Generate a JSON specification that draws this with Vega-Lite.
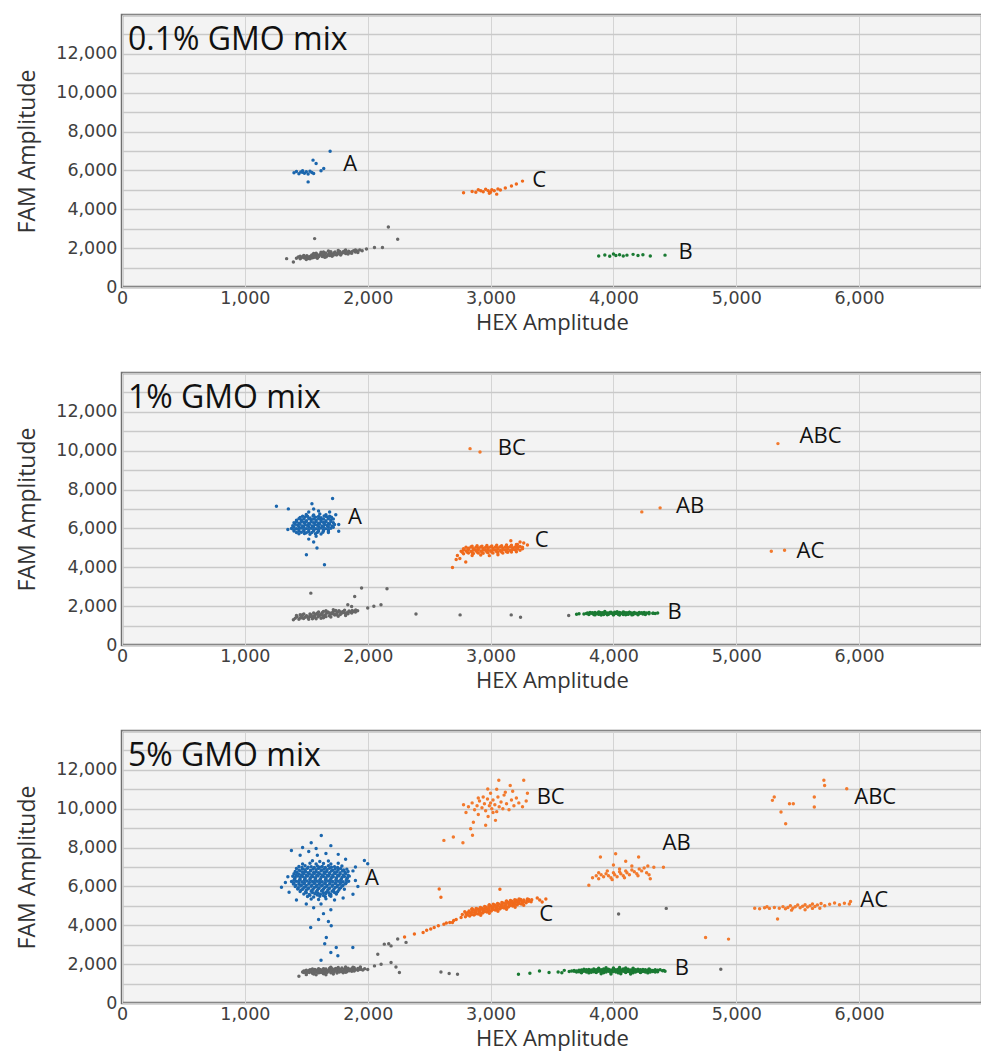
{
"$schema": "https://vega.github.io/schema/vega-lite/v6.json",
"padding": {"left": 15, "top": 13, "right": 0, "bottom": 0},
"background": "white",
"spacing": 36,
"config": {
 "font": "Open Sans",
 "view": {"fill": "#f3f3f3", "stroke": "#6f6f6f", "strokeWidth": 2.5},
 "axis": {"labelFont": "DejaVu Sans", "labelFontSize": 17.5, "labelColor": "#404040", "titleFont": "Open Sans", "titleFontWeight": "normal", "titleColor": "#333333", "ticks": false, "domain": false, "labelFlush": false},
 "title": {"font": "Open Sans", "fontSize": 32, "fontWeight": "normal", "color": "#111111", "anchor": "start", "frame": "group", "baseline": "top", "offset": -42, "dx": 6}
},
"datasets": {
"lab": [
{"p":1,"t":"A","x":1800,"y":6350},{"p":1,"t":"C","x":3340,"y":5500},{"p":1,"t":"B","x":4530,"y":1800},
{"p":2,"t":"BC","x":3058,"y":10150},{"p":2,"t":"ABC","x":5515,"y":10760},{"p":2,"t":"AB","x":4510,"y":7140},{"p":2,"t":"A","x":1840,"y":6580},{"p":2,"t":"C","x":3360,"y":5420},{"p":2,"t":"AC","x":5490,"y":4820},{"p":2,"t":"B","x":4440,"y":1720},
{"p":3,"t":"BC","x":3375,"y":10600},{"p":3,"t":"ABC","x":5960,"y":10600},{"p":3,"t":"AB","x":4400,"y":8210},{"p":3,"t":"A","x":1977,"y":6420},{"p":3,"t":"C","x":3396,"y":4600},{"p":3,"t":"AC","x":6010,"y":5320},{"p":3,"t":"B","x":4500,"y":1820}
],
"d1": [
{"g":"N","x":1420,"y":1480},{"g":"N","x":1435,"y":1540},{"g":"N","x":1450,"y":1455},{"g":"N","x":1460,"y":1510},{"g":"N","x":1472,"y":1575},{"g":"N","x":1485,"y":1490},{"g":"N","x":1495,"y":1545},{"g":"N","x":1505,"y":1610},{"g":"N","x":1515,"y":1470},{"g":"N","x":1522,"y":1530},
{"g":"N","x":1535,"y":1590},{"g":"N","x":1545,"y":1650},{"g":"N","x":1552,"y":1510},{"g":"N","x":1563,"y":1565},{"g":"N","x":1575,"y":1625},{"g":"N","x":1584,"y":1690},{"g":"N","x":1592,"y":1540},{"g":"N","x":1603,"y":1600},{"g":"N","x":1612,"y":1660},{"g":"N","x":1620,"y":1720},
{"g":"N","x":1630,"y":1570},{"g":"N","x":1641,"y":1630},{"g":"N","x":1650,"y":1690},{"g":"N","x":1659,"y":1745},{"g":"N","x":1668,"y":1600},{"g":"N","x":1678,"y":1660},{"g":"N","x":1687,"y":1720},{"g":"N","x":1697,"y":1775},{"g":"N","x":1705,"y":1630},{"g":"N","x":1716,"y":1690},
{"g":"N","x":1725,"y":1750},{"g":"N","x":1734,"y":1800},{"g":"N","x":1743,"y":1660},{"g":"N","x":1753,"y":1720},{"g":"N","x":1762,"y":1780},{"g":"N","x":1772,"y":1830},{"g":"N","x":1781,"y":1690},{"g":"N","x":1791,"y":1750},{"g":"N","x":1800,"y":1810},{"g":"N","x":1812,"y":1860},
{"g":"N","x":1822,"y":1720},{"g":"N","x":1833,"y":1780},{"g":"N","x":1845,"y":1840},{"g":"N","x":1858,"y":1760},{"g":"N","x":1870,"y":1810},{"g":"N","x":1885,"y":1870},{"g":"N","x":1900,"y":1800},{"g":"N","x":1915,"y":1850},{"g":"N","x":1935,"y":1900},{"g":"N","x":1955,"y":1870},
{"g":"N","x":1530,"y":1450},{"g":"N","x":1590,"y":1480},{"g":"N","x":1650,"y":1530},{"g":"N","x":1710,"y":1580},{"g":"N","x":1560,"y":1720},{"g":"N","x":1620,"y":1790},{"g":"N","x":1680,"y":1850},{"g":"N","x":1600,"y":1640},{"g":"N","x":1700,"y":1700},{"g":"N","x":1760,"y":1740},
{"g":"N","x":1450,"y":1590},{"g":"N","x":1480,"y":1620},{"g":"N","x":1510,"y":1560},{"g":"N","x":1540,"y":1500},{"g":"N","x":1570,"y":1530},{"g":"N","x":1600,"y":1560},{"g":"N","x":1630,"y":1680},{"g":"N","x":1660,"y":1550},{"g":"N","x":1690,"y":1620},{"g":"N","x":1720,"y":1640},
{"g":"N","x":1750,"y":1660},{"g":"N","x":1780,"y":1650},{"g":"N","x":1810,"y":1760},{"g":"N","x":1840,"y":1700},{"g":"N","x":1870,"y":1740},{"g":"N","x":1900,"y":1900},{"g":"N","x":1920,"y":1780},{"g":"N","x":1500,"y":1420},{"g":"N","x":1580,"y":1740},{"g":"N","x":1640,"y":1800},
{"g":"N","x":1700,"y":1820},{"g":"N","x":1760,"y":1880},{"g":"N","x":1820,"y":1900},
{"g":"N","x":1340,"y":1460},{"g":"N","x":1395,"y":1290},{"g":"N","x":1568,"y":2490},{"g":"N","x":2055,"y":2030},{"g":"N","x":2120,"y":2030},{"g":"N","x":2168,"y":3090},{"g":"N","x":2244,"y":2460},{"g":"N","x":1990,"y":1960},
{"g":"A","x":1400,"y":5880},{"g":"A","x":1420,"y":5950},{"g":"A","x":1440,"y":5830},{"g":"A","x":1455,"y":5920},{"g":"A","x":1470,"y":5990},{"g":"A","x":1485,"y":5860},{"g":"A","x":1500,"y":5930},{"g":"A","x":1515,"y":5820},{"g":"A","x":1530,"y":5960},{"g":"A","x":1545,"y":5890},
{"g":"A","x":1555,"y":6530},{"g":"A","x":1580,"y":6360},{"g":"A","x":1620,"y":5980},{"g":"A","x":1642,"y":6100},{"g":"A","x":1515,"y":5410},{"g":"A","x":1694,"y":6990},{"g":"A","x":1470,"y":5900},{"g":"A","x":1560,"y":5840},
{"g":"C","x":2780,"y":4850},{"g":"C","x":2850,"y":4920},{"g":"C","x":2880,"y":4880},{"g":"C","x":2900,"y":5000},{"g":"C","x":2920,"y":4950},{"g":"C","x":2940,"y":4900},{"g":"C","x":2960,"y":5030},{"g":"C","x":2980,"y":4960},{"g":"C","x":3000,"y":4880},{"g":"C","x":3010,"y":5010},
{"g":"C","x":3030,"y":4950},{"g":"C","x":3050,"y":4780},{"g":"C","x":3060,"y":5050},{"g":"C","x":3080,"y":4990},{"g":"C","x":3120,"y":5100},{"g":"C","x":3170,"y":5200},{"g":"C","x":3210,"y":5300},{"g":"C","x":3260,"y":5450},{"g":"C","x":2990,"y":4820},
{"g":"B","x":3880,"y":1600},{"g":"B","x":3930,"y":1650},{"g":"B","x":3970,"y":1580},{"g":"B","x":4000,"y":1700},{"g":"B","x":4020,"y":1620},{"g":"B","x":4050,"y":1660},{"g":"B","x":4080,"y":1600},{"g":"B","x":4110,"y":1640},{"g":"B","x":4160,"y":1680},{"g":"B","x":4200,"y":1620},
{"g":"B","x":4240,"y":1660},{"g":"B","x":4300,"y":1600},{"g":"B","x":4420,"y":1640}
],
"d2": [
{"g":"N","x":1395,"y":1300},{"g":"N","x":1410,"y":1380},{"g":"N","x":1425,"y":1450},{"g":"N","x":1440,"y":1330},{"g":"N","x":1452,"y":1400},{"g":"N","x":1465,"y":1480},{"g":"N","x":1478,"y":1360},{"g":"N","x":1490,"y":1430},{"g":"N","x":1502,"y":1510},{"g":"N","x":1515,"y":1390},
{"g":"N","x":1527,"y":1460},{"g":"N","x":1540,"y":1540},{"g":"N","x":1552,"y":1420},{"g":"N","x":1563,"y":1490},{"g":"N","x":1575,"y":1570},{"g":"N","x":1588,"y":1640},{"g":"N","x":1597,"y":1450},{"g":"N","x":1608,"y":1520},{"g":"N","x":1620,"y":1600},{"g":"N","x":1632,"y":1670},
{"g":"N","x":1642,"y":1480},{"g":"N","x":1653,"y":1550},{"g":"N","x":1665,"y":1630},{"g":"N","x":1676,"y":1700},{"g":"N","x":1687,"y":1510},{"g":"N","x":1698,"y":1580},{"g":"N","x":1710,"y":1660},{"g":"N","x":1721,"y":1730},{"g":"N","x":1732,"y":1540},{"g":"N","x":1743,"y":1610},
{"g":"N","x":1755,"y":1690},{"g":"N","x":1766,"y":1760},{"g":"N","x":1777,"y":1570},{"g":"N","x":1788,"y":1640},{"g":"N","x":1800,"y":1720},{"g":"N","x":1812,"y":1790},{"g":"N","x":1823,"y":1600},{"g":"N","x":1835,"y":1670},{"g":"N","x":1848,"y":1750},{"g":"N","x":1860,"y":1700},
{"g":"N","x":1874,"y":1780},{"g":"N","x":1888,"y":1720},{"g":"N","x":1902,"y":1800},{"g":"N","x":1918,"y":1760},{"g":"N","x":1470,"y":1560},{"g":"N","x":1530,"y":1600},{"g":"N","x":1580,"y":1350},{"g":"N","x":1640,"y":1400},{"g":"N","x":1700,"y":1440},{"g":"N","x":1760,"y":1480},
{"g":"N","x":1820,"y":1520},{"g":"N","x":1600,"y":1700},{"g":"N","x":1660,"y":1760},{"g":"N","x":1720,"y":1810},{"g":"N","x":1550,"y":1350},
{"g":"N","x":1420,"y":1520},{"g":"N","x":1450,"y":1560},{"g":"N","x":1480,"y":1600},{"g":"N","x":1510,"y":1460},{"g":"N","x":1540,"y":1480},{"g":"N","x":1570,"y":1430},{"g":"N","x":1600,"y":1560},{"g":"N","x":1630,"y":1530},{"g":"N","x":1660,"y":1460},{"g":"N","x":1690,"y":1650},
{"g":"N","x":1720,"y":1600},{"g":"N","x":1750,"y":1560},{"g":"N","x":1780,"y":1700},{"g":"N","x":1810,"y":1660},{"g":"N","x":1840,"y":1610},{"g":"N","x":1870,"y":1650},{"g":"N","x":1900,"y":1700},{"g":"N","x":1460,"y":1400},{"g":"N","x":1520,"y":1320},{"g":"N","x":1620,"y":1380},
{"g":"N","x":1560,"y":1650},{"g":"N","x":1640,"y":1720},{"g":"N","x":1740,"y":1780},
{"g":"N","x":1537,"y":2670},{"g":"N","x":1894,"y":2500},{"g":"N","x":1950,"y":2930},{"g":"N","x":1869,"y":1980},{"g":"N","x":1838,"y":2070},{"g":"N","x":2000,"y":1900},{"g":"N","x":2050,"y":2000},{"g":"N","x":2108,"y":2070},{"g":"N","x":2157,"y":2890},{"g":"N","x":2393,"y":1600},
{"g":"N","x":2752,"y":1550},{"g":"N","x":3168,"y":1550},{"g":"N","x":3244,"y":1430},{"g":"N","x":3636,"y":1515},
{"g":"A","x":1500,"y":6720},{"g":"A","x":1560,"y":6690},{"g":"A","x":1610,"y":6740},{"g":"A","x":1660,"y":6700},
{"g":"A","x":1450,"y":6560},{"g":"A","x":1490,"y":6590},{"g":"A","x":1530,"y":6540},{"g":"A","x":1575,"y":6580},{"g":"A","x":1620,"y":6550},{"g":"A","x":1665,"y":6600},{"g":"A","x":1705,"y":6570},
{"g":"A","x":1420,"y":6420},{"g":"A","x":1460,"y":6440},{"g":"A","x":1500,"y":6400},{"g":"A","x":1540,"y":6450},{"g":"A","x":1580,"y":6410},{"g":"A","x":1620,"y":6440},{"g":"A","x":1660,"y":6400},{"g":"A","x":1700,"y":6430},
{"g":"A","x":1400,"y":6290},{"g":"A","x":1440,"y":6270},{"g":"A","x":1480,"y":6300},{"g":"A","x":1520,"y":6260},{"g":"A","x":1560,"y":6290},{"g":"A","x":1600,"y":6270},{"g":"A","x":1640,"y":6300},{"g":"A","x":1680,"y":6260},{"g":"A","x":1720,"y":6290},
{"g":"A","x":1390,"y":6140},{"g":"A","x":1430,"y":6160},{"g":"A","x":1470,"y":6120},{"g":"A","x":1510,"y":6150},{"g":"A","x":1550,"y":6130},{"g":"A","x":1590,"y":6160},{"g":"A","x":1630,"y":6120},{"g":"A","x":1670,"y":6150},{"g":"A","x":1710,"y":6130},
{"g":"A","x":1380,"y":6000},{"g":"A","x":1420,"y":5980},{"g":"A","x":1460,"y":6020},{"g":"A","x":1500,"y":5990},{"g":"A","x":1540,"y":6010},{"g":"A","x":1580,"y":5980},{"g":"A","x":1620,"y":6020},{"g":"A","x":1660,"y":5990},{"g":"A","x":1700,"y":6010},
{"g":"A","x":1400,"y":5870},{"g":"A","x":1440,"y":5850},{"g":"A","x":1480,"y":5880},{"g":"A","x":1520,"y":5840},{"g":"A","x":1560,"y":5870},{"g":"A","x":1600,"y":5850},{"g":"A","x":1640,"y":5880},{"g":"A","x":1680,"y":5860},
{"g":"A","x":1440,"y":5720},{"g":"A","x":1485,"y":5740},{"g":"A","x":1530,"y":5700},{"g":"A","x":1575,"y":5730},{"g":"A","x":1620,"y":5710},
{"g":"A","x":1470,"y":6630},{"g":"A","x":1510,"y":6625},{"g":"A","x":1555,"y":6640},{"g":"A","x":1600,"y":6620},{"g":"A","x":1645,"y":6635},{"g":"A","x":1690,"y":6625},
{"g":"A","x":1440,"y":6495},{"g":"A","x":1480,"y":6485},{"g":"A","x":1520,"y":6500},{"g":"A","x":1560,"y":6480},{"g":"A","x":1600,"y":6495},{"g":"A","x":1640,"y":6485},{"g":"A","x":1680,"y":6500},{"g":"A","x":1720,"y":6490},
{"g":"A","x":1420,"y":6350},{"g":"A","x":1460,"y":6360},{"g":"A","x":1500,"y":6345},{"g":"A","x":1540,"y":6355},{"g":"A","x":1580,"y":6340},{"g":"A","x":1620,"y":6360},{"g":"A","x":1660,"y":6345},{"g":"A","x":1700,"y":6355},
{"g":"A","x":1410,"y":6210},{"g":"A","x":1450,"y":6220},{"g":"A","x":1490,"y":6200},{"g":"A","x":1530,"y":6215},{"g":"A","x":1570,"y":6205},{"g":"A","x":1610,"y":6220},{"g":"A","x":1650,"y":6200},{"g":"A","x":1690,"y":6215},{"g":"A","x":1730,"y":6205},
{"g":"A","x":1400,"y":6070},{"g":"A","x":1440,"y":6080},{"g":"A","x":1480,"y":6060},{"g":"A","x":1520,"y":6075},{"g":"A","x":1560,"y":6065},{"g":"A","x":1600,"y":6080},{"g":"A","x":1640,"y":6060},{"g":"A","x":1680,"y":6075},{"g":"A","x":1720,"y":6065},
{"g":"A","x":1400,"y":5930},{"g":"A","x":1440,"y":5940},{"g":"A","x":1480,"y":5920},{"g":"A","x":1520,"y":5935},{"g":"A","x":1560,"y":5925},{"g":"A","x":1600,"y":5940},{"g":"A","x":1640,"y":5920},{"g":"A","x":1680,"y":5935},
{"g":"A","x":1420,"y":5790},{"g":"A","x":1460,"y":5800},{"g":"A","x":1500,"y":5780},{"g":"A","x":1545,"y":5795},{"g":"A","x":1590,"y":5785},{"g":"A","x":1635,"y":5800},{"g":"A","x":1680,"y":5790},
{"g":"A","x":1257,"y":7145},{"g":"A","x":1354,"y":7006},{"g":"A","x":1714,"y":7540},{"g":"A","x":1546,"y":7265},{"g":"A","x":1587,"y":4993},{"g":"A","x":1501,"y":4650},{"g":"A","x":1648,"y":4130},{"g":"A","x":1764,"y":5854},{"g":"A","x":1764,"y":6198},{"g":"A","x":1560,"y":7000},
{"g":"A","x":1600,"y":6900},{"g":"A","x":1520,"y":5450},{"g":"A","x":1580,"y":5600},{"g":"A","x":1350,"y":5950},{"g":"A","x":1740,"y":6700},{"g":"A","x":1520,"y":6850},{"g":"A","x":1690,"y":6850},{"g":"A","x":1560,"y":5300},
{"g":"C","x":2850,"y":5080},{"g":"C","x":2890,"y":5110},{"g":"C","x":2930,"y":5090},{"g":"C","x":2970,"y":5120},{"g":"C","x":3010,"y":5100},{"g":"C","x":3050,"y":5130},{"g":"C","x":3090,"y":5110},{"g":"C","x":3130,"y":5150},{"g":"C","x":3170,"y":5130},{"g":"C","x":3210,"y":5170},
{"g":"C","x":2780,"y":4950},{"g":"C","x":2820,"y":4980},{"g":"C","x":2860,"y":4960},{"g":"C","x":2900,"y":4990},{"g":"C","x":2940,"y":4970},{"g":"C","x":2980,"y":5000},{"g":"C","x":3020,"y":4980},{"g":"C","x":3060,"y":5010},{"g":"C","x":3100,"y":4990},{"g":"C","x":3140,"y":5020},{"g":"C","x":3180,"y":5000},{"g":"C","x":3220,"y":5040},{"g":"C","x":3260,"y":5030},
{"g":"C","x":2760,"y":4830},{"g":"C","x":2800,"y":4850},{"g":"C","x":2840,"y":4820},{"g":"C","x":2880,"y":4860},{"g":"C","x":2920,"y":4840},{"g":"C","x":2960,"y":4870},{"g":"C","x":3000,"y":4850},{"g":"C","x":3040,"y":4880},{"g":"C","x":3080,"y":4860},{"g":"C","x":3120,"y":4890},{"g":"C","x":3160,"y":4870},{"g":"C","x":3200,"y":4900},{"g":"C","x":3240,"y":4880},
{"g":"C","x":2780,"y":4700},{"g":"C","x":2820,"y":4730},{"g":"C","x":2860,"y":4710},{"g":"C","x":2900,"y":4740},{"g":"C","x":2940,"y":4720},{"g":"C","x":2980,"y":4750},{"g":"C","x":3020,"y":4730},{"g":"C","x":3060,"y":4760},{"g":"C","x":3100,"y":4740},{"g":"C","x":3140,"y":4770},
{"g":"C","x":2850,"y":4610},{"g":"C","x":2920,"y":4630},{"g":"C","x":2990,"y":4600},{"g":"C","x":3060,"y":4640},
{"g":"C","x":2800,"y":5030},{"g":"C","x":2840,"y":5040},{"g":"C","x":2880,"y":5025},{"g":"C","x":2920,"y":5045},{"g":"C","x":2960,"y":5035},{"g":"C","x":3000,"y":5050},{"g":"C","x":3040,"y":5040},{"g":"C","x":3080,"y":5055},{"g":"C","x":3120,"y":5045},{"g":"C","x":3160,"y":5060},{"g":"C","x":3200,"y":5050},{"g":"C","x":3240,"y":5065},
{"g":"C","x":2780,"y":4900},{"g":"C","x":2820,"y":4910},{"g":"C","x":2860,"y":4895},{"g":"C","x":2900,"y":4915},{"g":"C","x":2940,"y":4905},{"g":"C","x":2980,"y":4920},{"g":"C","x":3020,"y":4910},{"g":"C","x":3060,"y":4925},{"g":"C","x":3100,"y":4915},{"g":"C","x":3140,"y":4930},{"g":"C","x":3180,"y":4920},{"g":"C","x":3220,"y":4940},{"g":"C","x":3260,"y":4950},
{"g":"C","x":2770,"y":4770},{"g":"C","x":2810,"y":4780},{"g":"C","x":2850,"y":4765},{"g":"C","x":2890,"y":4785},{"g":"C","x":2930,"y":4775},{"g":"C","x":2970,"y":4790},{"g":"C","x":3010,"y":4780},{"g":"C","x":3050,"y":4795},{"g":"C","x":3090,"y":4785},{"g":"C","x":3130,"y":4800},{"g":"C","x":3170,"y":4790},{"g":"C","x":3210,"y":4805},
{"g":"C","x":2730,"y":4610},{"g":"C","x":2798,"y":4270},{"g":"C","x":2690,"y":3990},{"g":"C","x":3165,"y":5370},{"g":"C","x":3219,"y":5170},{"g":"C","x":3270,"y":5250},{"g":"C","x":3300,"y":5150},{"g":"C","x":3240,"y":5300},{"g":"C","x":2750,"y":4450},{"g":"C","x":2720,"y":4400},
{"g":"B","x":3880,"y":1700},{"g":"B","x":3930,"y":1720},{"g":"B","x":3980,"y":1690},{"g":"B","x":4030,"y":1710},{"g":"B","x":4080,"y":1700},{"g":"B","x":4130,"y":1690},
{"g":"B","x":3790,"y":1650},{"g":"B","x":3830,"y":1660},{"g":"B","x":3870,"y":1640},{"g":"B","x":3910,"y":1660},{"g":"B","x":3950,"y":1650},{"g":"B","x":3990,"y":1640},{"g":"B","x":4030,"y":1660},{"g":"B","x":4070,"y":1640},{"g":"B","x":4110,"y":1660},{"g":"B","x":4150,"y":1650},{"g":"B","x":4190,"y":1640},{"g":"B","x":4230,"y":1660},{"g":"B","x":4270,"y":1650},
{"g":"B","x":3760,"y":1600},{"g":"B","x":3800,"y":1590},{"g":"B","x":3840,"y":1610},{"g":"B","x":3880,"y":1600},{"g":"B","x":3920,"y":1590},{"g":"B","x":3960,"y":1610},{"g":"B","x":4000,"y":1600},{"g":"B","x":4040,"y":1590},{"g":"B","x":4080,"y":1610},{"g":"B","x":4120,"y":1600},{"g":"B","x":4160,"y":1590},{"g":"B","x":4200,"y":1610},{"g":"B","x":4240,"y":1600},{"g":"B","x":4290,"y":1610},{"g":"B","x":4340,"y":1620},
{"g":"B","x":3850,"y":1550},{"g":"B","x":3900,"y":1540},{"g":"B","x":3950,"y":1560},{"g":"B","x":4000,"y":1550},{"g":"B","x":4050,"y":1540},{"g":"B","x":4100,"y":1560},{"g":"B","x":4150,"y":1550},{"g":"B","x":4200,"y":1560},
{"g":"B","x":3810,"y":1675},{"g":"B","x":3850,"y":1680},{"g":"B","x":3890,"y":1670},{"g":"B","x":3930,"y":1682},{"g":"B","x":3970,"y":1672},{"g":"B","x":4010,"y":1685},{"g":"B","x":4050,"y":1675},{"g":"B","x":4090,"y":1680},{"g":"B","x":4130,"y":1670},{"g":"B","x":4170,"y":1678},{"g":"B","x":4210,"y":1672},{"g":"B","x":4250,"y":1680},{"g":"B","x":4290,"y":1675},
{"g":"B","x":3780,"y":1625},{"g":"B","x":3820,"y":1630},{"g":"B","x":3860,"y":1620},{"g":"B","x":3900,"y":1632},{"g":"B","x":3940,"y":1622},{"g":"B","x":3980,"y":1628},{"g":"B","x":4020,"y":1620},{"g":"B","x":4060,"y":1632},{"g":"B","x":4100,"y":1624},{"g":"B","x":4140,"y":1630},{"g":"B","x":4180,"y":1622},{"g":"B","x":4220,"y":1628},{"g":"B","x":4260,"y":1620},{"g":"B","x":4320,"y":1630},
{"g":"B","x":3800,"y":1575},{"g":"B","x":3840,"y":1570},{"g":"B","x":3880,"y":1580},{"g":"B","x":3920,"y":1572},{"g":"B","x":3960,"y":1578},{"g":"B","x":4000,"y":1570},{"g":"B","x":4040,"y":1580},{"g":"B","x":4080,"y":1574},{"g":"B","x":4120,"y":1578},{"g":"B","x":4160,"y":1570},{"g":"B","x":4200,"y":1580},{"g":"B","x":4260,"y":1575},
{"g":"B","x":3720,"y":1610},{"g":"B","x":4326,"y":1640},{"g":"B","x":3700,"y":1580},{"g":"B","x":4360,"y":1650},
{"g":"M","x":2833,"y":10107},{"g":"M","x":2914,"y":9935},{"g":"M","x":5339,"y":10365},{"g":"M","x":4231,"y":6852},{"g":"M","x":4380,"y":7058},{"g":"M","x":5285,"y":4820},{"g":"M","x":5393,"y":4872}
],
"d3": [
{"g":"N","x":1640,"y":1770},{"g":"N","x":1690,"y":1790},{"g":"N","x":1740,"y":1780},{"g":"N","x":1790,"y":1800},{"g":"N","x":1840,"y":1790},{"g":"N","x":1890,"y":1810},{"g":"N","x":1940,"y":1800},
{"g":"N","x":1530,"y":1710},{"g":"N","x":1570,"y":1730},{"g":"N","x":1610,"y":1720},{"g":"N","x":1650,"y":1730},{"g":"N","x":1690,"y":1715},{"g":"N","x":1730,"y":1735},{"g":"N","x":1770,"y":1720},{"g":"N","x":1810,"y":1740},{"g":"N","x":1850,"y":1725},{"g":"N","x":1890,"y":1745},{"g":"N","x":1930,"y":1735},{"g":"N","x":1975,"y":1760},
{"g":"N","x":1480,"y":1650},{"g":"N","x":1520,"y":1665},{"g":"N","x":1560,"y":1650},{"g":"N","x":1600,"y":1670},{"g":"N","x":1640,"y":1655},{"g":"N","x":1680,"y":1675},{"g":"N","x":1720,"y":1660},{"g":"N","x":1760,"y":1680},{"g":"N","x":1800,"y":1665},{"g":"N","x":1840,"y":1685},{"g":"N","x":1880,"y":1670},{"g":"N","x":1920,"y":1690},{"g":"N","x":1960,"y":1700},{"g":"N","x":2000,"y":1720},
{"g":"N","x":1470,"y":1600},{"g":"N","x":1510,"y":1590},{"g":"N","x":1550,"y":1610},{"g":"N","x":1590,"y":1595},{"g":"N","x":1630,"y":1615},{"g":"N","x":1670,"y":1600},{"g":"N","x":1710,"y":1620},{"g":"N","x":1750,"y":1605},{"g":"N","x":1790,"y":1625},{"g":"N","x":1830,"y":1610},{"g":"N","x":1870,"y":1630},
{"g":"N","x":1500,"y":1540},{"g":"N","x":1550,"y":1530},{"g":"N","x":1600,"y":1550},{"g":"N","x":1650,"y":1540},{"g":"N","x":1700,"y":1555},{"g":"N","x":1750,"y":1545},{"g":"N","x":1800,"y":1560},
{"g":"N","x":1560,"y":1490},{"g":"N","x":1640,"y":1500},{"g":"N","x":1720,"y":1495},
{"g":"N","x":1700,"y":1840},{"g":"N","x":1760,"y":1830},{"g":"N","x":1820,"y":1850},{"g":"N","x":1880,"y":1840},{"g":"N","x":1940,"y":1850},
{"g":"N","x":1550,"y":1750},{"g":"N","x":1600,"y":1760},{"g":"N","x":1660,"y":1750},{"g":"N","x":1710,"y":1765},{"g":"N","x":1760,"y":1750},{"g":"N","x":1820,"y":1770},{"g":"N","x":1870,"y":1760},{"g":"N","x":1920,"y":1775},
{"g":"N","x":1500,"y":1690},{"g":"N","x":1540,"y":1700},{"g":"N","x":1580,"y":1690},{"g":"N","x":1620,"y":1705},{"g":"N","x":1660,"y":1695},{"g":"N","x":1700,"y":1710},{"g":"N","x":1740,"y":1700},{"g":"N","x":1780,"y":1715},{"g":"N","x":1820,"y":1705},{"g":"N","x":1860,"y":1720},{"g":"N","x":1900,"y":1715},{"g":"N","x":1945,"y":1730},
{"g":"N","x":1490,"y":1630},{"g":"N","x":1530,"y":1635},{"g":"N","x":1570,"y":1625},{"g":"N","x":1610,"y":1640},{"g":"N","x":1650,"y":1630},{"g":"N","x":1690,"y":1645},{"g":"N","x":1730,"y":1635},{"g":"N","x":1770,"y":1650},{"g":"N","x":1810,"y":1640},{"g":"N","x":1850,"y":1655},{"g":"N","x":1890,"y":1650},
{"g":"N","x":1480,"y":1570},{"g":"N","x":1525,"y":1565},{"g":"N","x":1570,"y":1580},{"g":"N","x":1620,"y":1575},{"g":"N","x":1670,"y":1585},{"g":"N","x":1720,"y":1580},{"g":"N","x":1770,"y":1590},{"g":"N","x":1820,"y":1585},
{"g":"N","x":1500,"y":1460},{"g":"N","x":1580,"y":1450},{"g":"N","x":1660,"y":1455},
{"g":"N","x":2055,"y":1910},{"g":"N","x":2109,"y":2000},{"g":"N","x":2190,"y":2080},{"g":"N","x":2258,"y":1570},{"g":"N","x":2135,"y":3030},{"g":"N","x":2190,"y":2940},{"g":"N","x":2244,"y":3290},{"g":"N","x":2312,"y":3120},{"g":"N","x":2596,"y":1600},{"g":"N","x":2663,"y":1515},
{"g":"N","x":2731,"y":1480},{"g":"N","x":2082,"y":2510},{"g":"N","x":2171,"y":3050},{"g":"N","x":2230,"y":1850},{"g":"N","x":1440,"y":1380},{"g":"N","x":4874,"y":1740},{"g":"N","x":4430,"y":4870},{"g":"N","x":4042,"y":4580},
{"g":"A","x":1663,"y":3374},{"g":"A","x":1536,"y":3890},{"g":"A","x":1703,"y":3976},{"g":"A","x":1744,"y":2857},{"g":"A","x":1879,"y":2857},{"g":"A","x":1757,"y":2427},{"g":"A","x":1620,"y":2200},{"g":"A","x":1700,"y":2600},{"g":"A","x":1650,"y":3050},{"g":"A","x":1600,"y":4300},{"g":"A","x":1680,"y":4200},
{"g":"A","x":1550,"y":7320},{"g":"A","x":1610,"y":7280},{"g":"A","x":1680,"y":7310},
{"g":"A","x":1470,"y":7150},{"g":"A","x":1530,"y":7190},{"g":"A","x":1580,"y":7160},{"g":"A","x":1640,"y":7180},{"g":"A","x":1700,"y":7150},{"g":"A","x":1760,"y":7190},
{"g":"A","x":1440,"y":7030},{"g":"A","x":1490,"y":7060},{"g":"A","x":1540,"y":7020},{"g":"A","x":1590,"y":7050},{"g":"A","x":1630,"y":7030},{"g":"A","x":1680,"y":7060},{"g":"A","x":1730,"y":7020},{"g":"A","x":1790,"y":7050},
{"g":"A","x":1420,"y":6920},{"g":"A","x":1470,"y":6890},{"g":"A","x":1510,"y":6930},{"g":"A","x":1555,"y":6900},{"g":"A","x":1600,"y":6920},{"g":"A","x":1645,"y":6890},{"g":"A","x":1690,"y":6930},{"g":"A","x":1735,"y":6900},{"g":"A","x":1780,"y":6920},{"g":"A","x":1830,"y":6890},
{"g":"A","x":1410,"y":6770},{"g":"A","x":1450,"y":6800},{"g":"A","x":1495,"y":6770},{"g":"A","x":1535,"y":6790},{"g":"A","x":1580,"y":6760},{"g":"A","x":1620,"y":6800},{"g":"A","x":1665,"y":6770},{"g":"A","x":1705,"y":6790},{"g":"A","x":1750,"y":6760},{"g":"A","x":1795,"y":6790},{"g":"A","x":1840,"y":6770},
{"g":"A","x":1400,"y":6650},{"g":"A","x":1440,"y":6630},{"g":"A","x":1480,"y":6660},{"g":"A","x":1525,"y":6640},{"g":"A","x":1565,"y":6670},{"g":"A","x":1610,"y":6640},{"g":"A","x":1650,"y":6660},{"g":"A","x":1690,"y":6630},{"g":"A","x":1735,"y":6670},{"g":"A","x":1775,"y":6640},{"g":"A","x":1820,"y":6660},
{"g":"A","x":1390,"y":6520},{"g":"A","x":1430,"y":6540},{"g":"A","x":1470,"y":6510},{"g":"A","x":1510,"y":6530},{"g":"A","x":1555,"y":6500},{"g":"A","x":1595,"y":6540},{"g":"A","x":1640,"y":6510},{"g":"A","x":1680,"y":6530},{"g":"A","x":1720,"y":6500},{"g":"A","x":1765,"y":6540},{"g":"A","x":1810,"y":6510},{"g":"A","x":1850,"y":6530},
{"g":"A","x":1405,"y":6390},{"g":"A","x":1450,"y":6370},{"g":"A","x":1490,"y":6400},{"g":"A","x":1530,"y":6380},{"g":"A","x":1575,"y":6410},{"g":"A","x":1615,"y":6370},{"g":"A","x":1660,"y":6400},{"g":"A","x":1700,"y":6380},{"g":"A","x":1745,"y":6410},{"g":"A","x":1785,"y":6370},{"g":"A","x":1830,"y":6400},
{"g":"A","x":1380,"y":6250},{"g":"A","x":1420,"y":6270},{"g":"A","x":1465,"y":6240},{"g":"A","x":1505,"y":6280},{"g":"A","x":1550,"y":6250},{"g":"A","x":1590,"y":6270},{"g":"A","x":1630,"y":6240},{"g":"A","x":1675,"y":6280},{"g":"A","x":1715,"y":6250},{"g":"A","x":1760,"y":6270},{"g":"A","x":1800,"y":6240},{"g":"A","x":1845,"y":6270},
{"g":"A","x":1395,"y":6130},{"g":"A","x":1440,"y":6110},{"g":"A","x":1480,"y":6140},{"g":"A","x":1520,"y":6120},{"g":"A","x":1565,"y":6150},{"g":"A","x":1605,"y":6110},{"g":"A","x":1650,"y":6140},{"g":"A","x":1690,"y":6120},{"g":"A","x":1735,"y":6150},{"g":"A","x":1775,"y":6110},{"g":"A","x":1820,"y":6140},
{"g":"A","x":1410,"y":5990},{"g":"A","x":1455,"y":6020},{"g":"A","x":1495,"y":5990},{"g":"A","x":1540,"y":6010},{"g":"A","x":1580,"y":5980},{"g":"A","x":1625,"y":6020},{"g":"A","x":1665,"y":5990},{"g":"A","x":1710,"y":6010},{"g":"A","x":1750,"y":5980},{"g":"A","x":1795,"y":6020},
{"g":"A","x":1430,"y":5870},{"g":"A","x":1470,"y":5850},{"g":"A","x":1515,"y":5880},{"g":"A","x":1555,"y":5860},{"g":"A","x":1600,"y":5890},{"g":"A","x":1640,"y":5850},{"g":"A","x":1685,"y":5880},{"g":"A","x":1725,"y":5860},{"g":"A","x":1770,"y":5890},{"g":"A","x":1810,"y":5860},
{"g":"A","x":1450,"y":5740},{"g":"A","x":1495,"y":5720},{"g":"A","x":1540,"y":5750},{"g":"A","x":1580,"y":5730},{"g":"A","x":1625,"y":5760},{"g":"A","x":1665,"y":5720},{"g":"A","x":1710,"y":5750},{"g":"A","x":1755,"y":5730},
{"g":"A","x":1480,"y":5610},{"g":"A","x":1525,"y":5590},{"g":"A","x":1570,"y":5620},{"g":"A","x":1615,"y":5600},{"g":"A","x":1660,"y":5630},{"g":"A","x":1700,"y":5590},{"g":"A","x":1745,"y":5610},
{"g":"A","x":1510,"y":5480},{"g":"A","x":1560,"y":5460},{"g":"A","x":1610,"y":5490},{"g":"A","x":1655,"y":5470},{"g":"A","x":1700,"y":5500},
{"g":"A","x":1540,"y":5350},{"g":"A","x":1600,"y":5330},{"g":"A","x":1660,"y":5360},
{"g":"A","x":1465,"y":6975},{"g":"A","x":1515,"y":6985},{"g":"A","x":1565,"y":6970},{"g":"A","x":1610,"y":6990},{"g":"A","x":1655,"y":6975},{"g":"A","x":1705,"y":6985},{"g":"A","x":1755,"y":6970},
{"g":"A","x":1440,"y":6845},{"g":"A","x":1490,"y":6855},{"g":"A","x":1535,"y":6840},{"g":"A","x":1580,"y":6860},{"g":"A","x":1625,"y":6845},{"g":"A","x":1670,"y":6855},{"g":"A","x":1715,"y":6840},{"g":"A","x":1760,"y":6860},{"g":"A","x":1805,"y":6845},
{"g":"A","x":1425,"y":6715},{"g":"A","x":1470,"y":6725},{"g":"A","x":1515,"y":6705},{"g":"A","x":1560,"y":6720},{"g":"A","x":1600,"y":6710},{"g":"A","x":1645,"y":6725},{"g":"A","x":1690,"y":6705},{"g":"A","x":1730,"y":6720},{"g":"A","x":1775,"y":6710},{"g":"A","x":1815,"y":6725},
{"g":"A","x":1415,"y":6585},{"g":"A","x":1460,"y":6595},{"g":"A","x":1500,"y":6575},{"g":"A","x":1545,"y":6590},{"g":"A","x":1585,"y":6580},{"g":"A","x":1630,"y":6595},{"g":"A","x":1670,"y":6575},{"g":"A","x":1715,"y":6590},{"g":"A","x":1755,"y":6580},{"g":"A","x":1800,"y":6595},{"g":"A","x":1840,"y":6580},
{"g":"A","x":1410,"y":6455},{"g":"A","x":1450,"y":6465},{"g":"A","x":1490,"y":6445},{"g":"A","x":1535,"y":6460},{"g":"A","x":1575,"y":6450},{"g":"A","x":1620,"y":6465},{"g":"A","x":1660,"y":6445},{"g":"A","x":1705,"y":6460},{"g":"A","x":1745,"y":6450},{"g":"A","x":1790,"y":6465},{"g":"A","x":1835,"y":6450},
{"g":"A","x":1400,"y":6325},{"g":"A","x":1445,"y":6335},{"g":"A","x":1485,"y":6315},{"g":"A","x":1530,"y":6330},{"g":"A","x":1570,"y":6320},{"g":"A","x":1610,"y":6335},{"g":"A","x":1655,"y":6315},{"g":"A","x":1695,"y":6330},{"g":"A","x":1740,"y":6320},{"g":"A","x":1780,"y":6335},{"g":"A","x":1825,"y":6320},
{"g":"A","x":1400,"y":6195},{"g":"A","x":1440,"y":6205},{"g":"A","x":1485,"y":6185},{"g":"A","x":1525,"y":6200},{"g":"A","x":1570,"y":6190},{"g":"A","x":1610,"y":6205},{"g":"A","x":1655,"y":6185},{"g":"A","x":1695,"y":6200},{"g":"A","x":1740,"y":6190},{"g":"A","x":1780,"y":6205},{"g":"A","x":1825,"y":6190},
{"g":"A","x":1415,"y":6065},{"g":"A","x":1460,"y":6075},{"g":"A","x":1500,"y":6055},{"g":"A","x":1545,"y":6070},{"g":"A","x":1585,"y":6060},{"g":"A","x":1630,"y":6075},{"g":"A","x":1670,"y":6055},{"g":"A","x":1715,"y":6070},{"g":"A","x":1755,"y":6060},{"g":"A","x":1800,"y":6075},
{"g":"A","x":1435,"y":5935},{"g":"A","x":1480,"y":5945},{"g":"A","x":1520,"y":5925},{"g":"A","x":1565,"y":5940},{"g":"A","x":1605,"y":5930},{"g":"A","x":1650,"y":5945},{"g":"A","x":1690,"y":5925},{"g":"A","x":1735,"y":5940},{"g":"A","x":1780,"y":5930},
{"g":"A","x":1455,"y":5805},{"g":"A","x":1500,"y":5815},{"g":"A","x":1545,"y":5795},{"g":"A","x":1590,"y":5810},{"g":"A","x":1630,"y":5800},{"g":"A","x":1675,"y":5815},{"g":"A","x":1720,"y":5795},{"g":"A","x":1765,"y":5810},
{"g":"A","x":1500,"y":5675},{"g":"A","x":1550,"y":5685},{"g":"A","x":1595,"y":5665},{"g":"A","x":1640,"y":5680},{"g":"A","x":1685,"y":5670},{"g":"A","x":1730,"y":5685},
{"g":"A","x":1530,"y":5545},{"g":"A","x":1590,"y":5555},{"g":"A","x":1640,"y":5535},{"g":"A","x":1690,"y":5550},
{"g":"A","x":1379,"y":7850},{"g":"A","x":1298,"y":5957},{"g":"A","x":1622,"y":8625},{"g":"A","x":1973,"y":7335},{"g":"A","x":2000,"y":7163},{"g":"A","x":1450,"y":7600},{"g":"A","x":1520,"y":7800},{"g":"A","x":1580,"y":7950},{"g":"A","x":1660,"y":7700},{"g":"A","x":1700,"y":8100},
{"g":"A","x":1760,"y":7650},{"g":"A","x":1820,"y":7400},{"g":"A","x":1880,"y":6800},{"g":"A","x":1900,"y":6300},{"g":"A","x":1920,"y":6000},{"g":"A","x":1880,"y":5600},{"g":"A","x":1350,"y":6500},{"g":"A","x":1330,"y":6200},{"g":"A","x":1360,"y":5700},{"g":"A","x":1420,"y":5300},
{"g":"A","x":1500,"y":5100},{"g":"A","x":1560,"y":4900},{"g":"A","x":1620,"y":5100},{"g":"A","x":1700,"y":4800},{"g":"A","x":1640,"y":4600},{"g":"A","x":1730,"y":5300},{"g":"A","x":1800,"y":5400},{"g":"A","x":1470,"y":8000},{"g":"A","x":1540,"y":8250},{"g":"A","x":1900,"y":7000},{"g":"A","x":1590,"y":7600},
{"g":"C","x":2760,"y":4400},{"g":"C","x":2770,"y":4560},
{"g":"C","x":2795,"y":4440},{"g":"C","x":2800,"y":4600},{"g":"C","x":2790,"y":4700},
{"g":"C","x":2830,"y":4480},{"g":"C","x":2835,"y":4620},{"g":"C","x":2825,"y":4740},
{"g":"C","x":2865,"y":4530},{"g":"C","x":2870,"y":4660},{"g":"C","x":2860,"y":4790},{"g":"C","x":2875,"y":4580},
{"g":"C","x":2900,"y":4580},{"g":"C","x":2905,"y":4710},{"g":"C","x":2895,"y":4840},{"g":"C","x":2910,"y":4640},
{"g":"C","x":2935,"y":4630},{"g":"C","x":2940,"y":4760},{"g":"C","x":2930,"y":4880},{"g":"C","x":2945,"y":4700},
{"g":"C","x":2970,"y":4680},{"g":"C","x":2975,"y":4810},{"g":"C","x":2965,"y":4930},{"g":"C","x":2980,"y":4750},
{"g":"C","x":3005,"y":4730},{"g":"C","x":3010,"y":4860},{"g":"C","x":3000,"y":4990},{"g":"C","x":3015,"y":4800},
{"g":"C","x":3040,"y":4780},{"g":"C","x":3045,"y":4910},{"g":"C","x":3035,"y":5040},{"g":"C","x":3050,"y":4850},
{"g":"C","x":3075,"y":4840},{"g":"C","x":3080,"y":4960},{"g":"C","x":3070,"y":5090},{"g":"C","x":3085,"y":4900},
{"g":"C","x":3110,"y":4890},{"g":"C","x":3115,"y":5010},{"g":"C","x":3105,"y":5140},{"g":"C","x":3120,"y":4960},
{"g":"C","x":3145,"y":4940},{"g":"C","x":3150,"y":5070},{"g":"C","x":3140,"y":5190},{"g":"C","x":3155,"y":5010},
{"g":"C","x":3180,"y":4990},{"g":"C","x":3185,"y":5120},{"g":"C","x":3175,"y":5240},{"g":"C","x":3190,"y":5060},
{"g":"C","x":3215,"y":5050},{"g":"C","x":3220,"y":5170},{"g":"C","x":3210,"y":5290},{"g":"C","x":3225,"y":5110},
{"g":"C","x":3250,"y":5100},{"g":"C","x":3255,"y":5220},{"g":"C","x":3245,"y":5330},{"g":"C","x":3260,"y":5160},
{"g":"C","x":3290,"y":5160},{"g":"C","x":3295,"y":5270},{"g":"C","x":3300,"y":5360},
{"g":"C","x":3330,"y":5210},{"g":"C","x":3335,"y":5320},
{"g":"C","x":2880,"y":4720},{"g":"C","x":2950,"y":4820},{"g":"C","x":3020,"y":4920},{"g":"C","x":3090,"y":5030},{"g":"C","x":3160,"y":5130},{"g":"C","x":3230,"y":5230},{"g":"C","x":2920,"y":4520},{"g":"C","x":2990,"y":4620},{"g":"C","x":3060,"y":4720},{"g":"C","x":3130,"y":4830},
{"g":"C","x":3200,"y":4930},{"g":"C","x":3270,"y":5030},{"g":"C","x":2850,"y":4850},{"g":"C","x":2990,"y":5060},{"g":"C","x":3130,"y":5250},
{"g":"C","x":2812,"y":4530},{"g":"C","x":2812,"y":4650},{"g":"C","x":2847,"y":4560},{"g":"C","x":2847,"y":4700},{"g":"C","x":2847,"y":4820},{"g":"C","x":2882,"y":4610},{"g":"C","x":2882,"y":4750},{"g":"C","x":2882,"y":4870},{"g":"C","x":2917,"y":4660},{"g":"C","x":2917,"y":4800},
{"g":"C","x":2917,"y":4920},{"g":"C","x":2952,"y":4710},{"g":"C","x":2952,"y":4850},{"g":"C","x":2952,"y":4970},{"g":"C","x":2987,"y":4770},{"g":"C","x":2987,"y":4900},{"g":"C","x":2987,"y":5020},{"g":"C","x":3022,"y":4820},{"g":"C","x":3022,"y":4950},{"g":"C","x":3022,"y":5080},
{"g":"C","x":3057,"y":4870},{"g":"C","x":3057,"y":5000},{"g":"C","x":3057,"y":5120},{"g":"C","x":3092,"y":4920},{"g":"C","x":3092,"y":5060},{"g":"C","x":3092,"y":5180},{"g":"C","x":3127,"y":4970},{"g":"C","x":3127,"y":5110},{"g":"C","x":3127,"y":5230},{"g":"C","x":3162,"y":5030},
{"g":"C","x":3162,"y":5160},{"g":"C","x":3162,"y":5280},{"g":"C","x":3197,"y":5080},{"g":"C","x":3197,"y":5210},{"g":"C","x":3197,"y":5320},{"g":"C","x":3232,"y":5130},{"g":"C","x":3232,"y":5260},{"g":"C","x":3232,"y":5360},{"g":"C","x":3270,"y":5200},{"g":"C","x":3270,"y":5300},
{"g":"C","x":3310,"y":5240},{"g":"C","x":3310,"y":5330},
{"g":"C","x":3400,"y":5300},{"g":"C","x":3450,"y":5350},{"g":"C","x":3420,"y":5200},{"g":"C","x":3380,"y":5400},{"g":"C","x":2451,"y":3633},{"g":"C","x":2575,"y":3976},{"g":"C","x":2668,"y":4148},{"g":"C","x":2513,"y":3804},{"g":"C","x":2541,"y":3890},{"g":"C","x":2690,"y":4148},
{"g":"C","x":2582,"y":5871},{"g":"C","x":2596,"y":5441},{"g":"C","x":3076,"y":5854},{"g":"C","x":2620,"y":4050},{"g":"C","x":2720,"y":4300},{"g":"C","x":2700,"y":4250},{"g":"C","x":2640,"y":4120},{"g":"C","x":2480,"y":3750},{"g":"C","x":2380,"y":3550},{"g":"C","x":2300,"y":3400},
{"g":"B","x":3880,"y":1790},{"g":"B","x":3940,"y":1810},{"g":"B","x":4000,"y":1800},{"g":"B","x":4050,"y":1830},{"g":"B","x":4100,"y":1800},{"g":"B","x":4160,"y":1790},
{"g":"B","x":3760,"y":1740},{"g":"B","x":3800,"y":1730},{"g":"B","x":3840,"y":1750},{"g":"B","x":3880,"y":1740},{"g":"B","x":3920,"y":1755},{"g":"B","x":3960,"y":1735},{"g":"B","x":4000,"y":1750},{"g":"B","x":4040,"y":1740},{"g":"B","x":4080,"y":1755},{"g":"B","x":4120,"y":1735},{"g":"B","x":4160,"y":1750},{"g":"B","x":4200,"y":1740},{"g":"B","x":4240,"y":1730},{"g":"B","x":4290,"y":1745},
{"g":"B","x":3680,"y":1680},{"g":"B","x":3720,"y":1690},{"g":"B","x":3760,"y":1670},{"g":"B","x":3800,"y":1690},{"g":"B","x":3840,"y":1680},{"g":"B","x":3880,"y":1690},{"g":"B","x":3920,"y":1670},{"g":"B","x":3960,"y":1690},{"g":"B","x":4000,"y":1680},{"g":"B","x":4040,"y":1695},
{"g":"B","x":4080,"y":1675},{"g":"B","x":4120,"y":1690},{"g":"B","x":4160,"y":1680},{"g":"B","x":4200,"y":1695},{"g":"B","x":4240,"y":1675},{"g":"B","x":4280,"y":1690},{"g":"B","x":4320,"y":1680},{"g":"B","x":4360,"y":1690},{"g":"B","x":4410,"y":1680},
{"g":"B","x":3640,"y":1620},{"g":"B","x":3680,"y":1630},{"g":"B","x":3720,"y":1610},{"g":"B","x":3760,"y":1630},{"g":"B","x":3800,"y":1620},{"g":"B","x":3840,"y":1610},{"g":"B","x":3880,"y":1630},{"g":"B","x":3920,"y":1615},{"g":"B","x":3960,"y":1630},{"g":"B","x":4000,"y":1620},
{"g":"B","x":4040,"y":1610},{"g":"B","x":4080,"y":1630},{"g":"B","x":4120,"y":1620},{"g":"B","x":4160,"y":1610},{"g":"B","x":4200,"y":1630},{"g":"B","x":4240,"y":1615},{"g":"B","x":4280,"y":1630},{"g":"B","x":4320,"y":1620},{"g":"B","x":4360,"y":1610},{"g":"B","x":4420,"y":1630},
{"g":"B","x":3740,"y":1560},{"g":"B","x":3800,"y":1550},{"g":"B","x":3860,"y":1570},{"g":"B","x":3920,"y":1555},{"g":"B","x":3980,"y":1565},{"g":"B","x":4040,"y":1550},{"g":"B","x":4100,"y":1570},{"g":"B","x":4160,"y":1555},{"g":"B","x":4220,"y":1565},{"g":"B","x":4280,"y":1550},
{"g":"B","x":3900,"y":1500},{"g":"B","x":3980,"y":1490},{"g":"B","x":4060,"y":1510},{"g":"B","x":4140,"y":1495},
{"g":"B","x":3740,"y":1705},{"g":"B","x":3780,"y":1715},{"g":"B","x":3820,"y":1700},{"g":"B","x":3860,"y":1712},{"g":"B","x":3900,"y":1708},{"g":"B","x":3940,"y":1718},{"g":"B","x":3980,"y":1702},{"g":"B","x":4020,"y":1714},{"g":"B","x":4060,"y":1706},{"g":"B","x":4100,"y":1716},
{"g":"B","x":4140,"y":1704},{"g":"B","x":4180,"y":1712},{"g":"B","x":4220,"y":1708},{"g":"B","x":4260,"y":1715},{"g":"B","x":4300,"y":1703},{"g":"B","x":4340,"y":1712},{"g":"B","x":4380,"y":1706},
{"g":"B","x":3660,"y":1652},{"g":"B","x":3700,"y":1645},{"g":"B","x":3740,"y":1655},{"g":"B","x":3780,"y":1648},{"g":"B","x":3820,"y":1658},{"g":"B","x":3860,"y":1646},{"g":"B","x":3900,"y":1654},{"g":"B","x":3940,"y":1650},{"g":"B","x":3980,"y":1660},{"g":"B","x":4020,"y":1644},
{"g":"B","x":4060,"y":1656},{"g":"B","x":4100,"y":1648},{"g":"B","x":4140,"y":1658},{"g":"B","x":4180,"y":1646},{"g":"B","x":4220,"y":1654},{"g":"B","x":4260,"y":1650},{"g":"B","x":4300,"y":1660},{"g":"B","x":4340,"y":1646},{"g":"B","x":4400,"y":1655},
{"g":"B","x":3700,"y":1592},{"g":"B","x":3740,"y":1585},{"g":"B","x":3780,"y":1595},{"g":"B","x":3820,"y":1588},{"g":"B","x":3860,"y":1598},{"g":"B","x":3900,"y":1586},{"g":"B","x":3940,"y":1594},{"g":"B","x":3980,"y":1590},{"g":"B","x":4020,"y":1600},{"g":"B","x":4060,"y":1584},
{"g":"B","x":4100,"y":1596},{"g":"B","x":4140,"y":1588},{"g":"B","x":4180,"y":1598},{"g":"B","x":4220,"y":1586},{"g":"B","x":4260,"y":1594},{"g":"B","x":4300,"y":1590},{"g":"B","x":4340,"y":1598},
{"g":"B","x":3227,"y":1480},{"g":"B","x":3320,"y":1530},{"g":"B","x":3398,"y":1650},{"g":"B","x":3476,"y":1570},{"g":"B","x":3550,"y":1600},{"g":"B","x":3600,"y":1680},{"g":"B","x":3580,"y":1560},
{"g":"M","x":2780,"y":10200},{"g":"M","x":2820,"y":10100},{"g":"M","x":2850,"y":10300},{"g":"M","x":2870,"y":9950},{"g":"M","x":2890,"y":10150},{"g":"M","x":2910,"y":10400},{"g":"M","x":2930,"y":10050},{"g":"M","x":2950,"y":10250},{"g":"M","x":2960,"y":9900},{"g":"M","x":2975,"y":10500},
{"g":"M","x":2990,"y":10150},{"g":"M","x":3000,"y":10300},{"g":"M","x":3010,"y":10000},{"g":"M","x":3020,"y":10450},{"g":"M","x":3035,"y":10200},{"g":"M","x":3050,"y":9850},{"g":"M","x":3060,"y":10600},{"g":"M","x":3070,"y":10100},{"g":"M","x":3085,"y":10350},{"g":"M","x":3100,"y":10000},
{"g":"M","x":3110,"y":10700},{"g":"M","x":3130,"y":10250},{"g":"M","x":3150,"y":9950},{"g":"M","x":3170,"y":10450},{"g":"M","x":3190,"y":10150},{"g":"M","x":3210,"y":10550},{"g":"M","x":3230,"y":10300},{"g":"M","x":3260,"y":10100},{"g":"M","x":3290,"y":10400},{"g":"M","x":2940,"y":10600},
{"g":"M","x":3000,"y":10800},{"g":"M","x":3050,"y":11000},{"g":"M","x":3120,"y":10850},{"g":"M","x":3180,"y":10900},{"g":"M","x":2900,"y":9700},{"g":"M","x":2980,"y":9600},{"g":"M","x":3040,"y":9400},{"g":"M","x":2860,"y":9300},{"g":"M","x":2960,"y":9150},{"g":"M","x":2620,"y":8370},
{"g":"M","x":2697,"y":8540},{"g":"M","x":2775,"y":8250},{"g":"M","x":2853,"y":8630},{"g":"M","x":2838,"y":8970},{"g":"M","x":3067,"y":11470},{"g":"M","x":3270,"y":11470},{"g":"M","x":3160,"y":11200},{"g":"M","x":2977,"y":11020},{"g":"M","x":3020,"y":9800},{"g":"M","x":2800,"y":9800},
{"g":"M","x":3300,"y":10800},{"g":"M","x":2900,"y":10550},
{"g":"M","x":3830,"y":6450},{"g":"M","x":3860,"y":6550},{"g":"M","x":3880,"y":6400},{"g":"M","x":3900,"y":6600},{"g":"M","x":3920,"y":6500},{"g":"M","x":3940,"y":6650},{"g":"M","x":3960,"y":6550},{"g":"M","x":3980,"y":6450},{"g":"M","x":4000,"y":6700},{"g":"M","x":4010,"y":6600},
{"g":"M","x":4030,"y":6500},{"g":"M","x":4050,"y":6750},{"g":"M","x":4060,"y":6650},{"g":"M","x":4080,"y":6550},{"g":"M","x":4100,"y":6800},{"g":"M","x":4110,"y":6700},{"g":"M","x":4130,"y":6600},{"g":"M","x":4150,"y":6850},{"g":"M","x":4170,"y":6750},{"g":"M","x":4190,"y":6650},
{"g":"M","x":4210,"y":6900},{"g":"M","x":4230,"y":6800},{"g":"M","x":4250,"y":6950},{"g":"M","x":4270,"y":6700},{"g":"M","x":4280,"y":7050},{"g":"M","x":3950,"y":6800},{"g":"M","x":4050,"y":6900},{"g":"M","x":4150,"y":7050},{"g":"M","x":3990,"y":6350},{"g":"M","x":4090,"y":6450},
{"g":"M","x":4200,"y":6550},{"g":"M","x":4290,"y":6600},{"g":"M","x":3880,"y":6700},{"g":"M","x":4018,"y":7680},{"g":"M","x":3894,"y":7510},{"g":"M","x":4205,"y":7510},{"g":"M","x":4329,"y":6990},{"g":"M","x":4407,"y":6990},{"g":"M","x":3800,"y":6060},{"g":"M","x":4100,"y":7300},
{"g":"M","x":4300,"y":6400},{"g":"M","x":4000,"y":7100},
{"g":"M","x":5150,"y":4880},{"g":"M","x":5190,"y":4850},{"g":"M","x":5230,"y":4900},{"g":"M","x":5270,"y":4870},{"g":"M","x":5310,"y":4920},{"g":"M","x":5350,"y":4880},{"g":"M","x":5380,"y":4960},{"g":"M","x":5400,"y":4850},{"g":"M","x":5420,"y":4920},{"g":"M","x":5440,"y":5000},
{"g":"M","x":5460,"y":4880},{"g":"M","x":5480,"y":4950},{"g":"M","x":5500,"y":5040},{"g":"M","x":5520,"y":4900},{"g":"M","x":5540,"y":4980},{"g":"M","x":5560,"y":5060},{"g":"M","x":5580,"y":4940},{"g":"M","x":5600,"y":5010},{"g":"M","x":5620,"y":5100},{"g":"M","x":5640,"y":4970},
{"g":"M","x":5660,"y":5050},{"g":"M","x":5690,"y":5120},{"g":"M","x":5720,"y":5000},{"g":"M","x":5760,"y":5080},{"g":"M","x":5800,"y":5150},{"g":"M","x":5840,"y":5060},{"g":"M","x":5880,"y":5130},{"g":"M","x":5920,"y":5100},{"g":"M","x":5930,"y":5220},{"g":"M","x":5336,"y":4320},
{"g":"M","x":5450,"y":4780},{"g":"M","x":5560,"y":4800},{"g":"M","x":5680,"y":4880},{"g":"M","x":5250,"y":4950},{"g":"M","x":5620,"y":4870},
{"g":"M","x":5309,"y":10600},{"g":"M","x":5364,"y":9830},{"g":"M","x":5402,"y":9226},{"g":"M","x":5433,"y":10260},{"g":"M","x":5464,"y":10260},{"g":"M","x":5635,"y":10600},{"g":"M","x":5635,"y":10088},{"g":"M","x":5713,"y":11467},{"g":"M","x":5719,"y":11200},{"g":"M","x":5899,"y":11033},
{"g":"M","x":5294,"y":10430},{"g":"M","x":4750,"y":3374},{"g":"M","x":4937,"y":3288}
]
},
"vconcat": [
{
 "width": 860, "height": 272,
 "title": {"text": "0.1% GMO mix"},
 "layer": [
  {"data": {"name": "d1"}, "mark": {"type": "circle", "size": 12, "opacity": 1},
   "encoding": {
    "x": {"field": "x", "type": "quantitative", "scale": {"domain": [0, 7000], "nice": false}, "axis": {"title": "HEX Amplitude", "tickCount": 7, "labelExpr": "datum.value < 6500 ? format(datum.value, ',') : ''", "labelPadding": 2, "titlePadding": 6, "titleFontSize": 22, "gridColor": "#d4d4d4"}},
    "y": {"field": "y", "type": "quantitative", "scale": {"domain": [0, 14000], "nice": false}, "axis": {"title": "FAM Amplitude", "tickCount": 14, "labelExpr": "datum.value % 2000 == 0 && datum.value < 13000 ? format(datum.value, ',') : ''", "labelPadding": 5, "titlePadding": 16, "titleFontSize": 23, "gridColor": "#c9c9c9", "gridWidth": 1.5}},
    "color": {"field": "g", "type": "nominal", "scale": {"domain": ["N","A","B","C","M"], "range": ["#676767","#1b66ad","#1a7a33","#f06a1c","#f27a2e"]}, "legend": null}
   }},
  {"data": {"name": "lab"}, "transform": [{"filter": "datum.p == 1"}], "mark": {"type": "text", "align": "left", "baseline": "middle", "fontSize": 22, "font": "Open Sans", "color": "#111111"},
   "encoding": {"x": {"field": "x", "type": "quantitative"}, "y": {"field": "y", "type": "quantitative"}, "text": {"field": "t"}}}
 ]
},
{
 "width": 860, "height": 272,
 "title": {"text": "1% GMO mix"},
 "layer": [
  {"data": {"name": "d2"}, "mark": {"type": "circle", "size": 12, "opacity": 1},
   "encoding": {
    "x": {"field": "x", "type": "quantitative", "scale": {"domain": [0, 7000], "nice": false}, "axis": {"title": "HEX Amplitude", "tickCount": 7, "labelExpr": "datum.value < 6500 ? format(datum.value, ',') : ''", "labelPadding": 2, "titlePadding": 6, "titleFontSize": 22, "gridColor": "#d4d4d4"}},
    "y": {"field": "y", "type": "quantitative", "scale": {"domain": [0, 14000], "nice": false}, "axis": {"title": "FAM Amplitude", "tickCount": 14, "labelExpr": "datum.value % 2000 == 0 && datum.value < 13000 ? format(datum.value, ',') : ''", "labelPadding": 5, "titlePadding": 16, "titleFontSize": 23, "gridColor": "#c9c9c9", "gridWidth": 1.5}},
    "color": {"field": "g", "type": "nominal", "scale": {"domain": ["N","A","B","C","M"], "range": ["#676767","#1b66ad","#1a7a33","#f06a1c","#f27a2e"]}, "legend": null}
   }},
  {"data": {"name": "lab"}, "transform": [{"filter": "datum.p == 2"}], "mark": {"type": "text", "align": "left", "baseline": "middle", "fontSize": 22, "font": "Open Sans", "color": "#111111"},
   "encoding": {"x": {"field": "x", "type": "quantitative"}, "y": {"field": "y", "type": "quantitative"}, "text": {"field": "t"}}}
 ]
},
{
 "width": 860, "height": 272,
 "title": {"text": "5% GMO mix"},
 "layer": [
  {"data": {"name": "d3"}, "mark": {"type": "circle", "size": 12, "opacity": 1},
   "encoding": {
    "x": {"field": "x", "type": "quantitative", "scale": {"domain": [0, 7000], "nice": false}, "axis": {"title": "HEX Amplitude", "tickCount": 7, "labelExpr": "datum.value < 6500 ? format(datum.value, ',') : ''", "labelPadding": 2, "titlePadding": 6, "titleFontSize": 22, "gridColor": "#d4d4d4"}},
    "y": {"field": "y", "type": "quantitative", "scale": {"domain": [0, 14000], "nice": false}, "axis": {"title": "FAM Amplitude", "tickCount": 14, "labelExpr": "datum.value % 2000 == 0 && datum.value < 13000 ? format(datum.value, ',') : ''", "labelPadding": 5, "titlePadding": 16, "titleFontSize": 23, "gridColor": "#c9c9c9", "gridWidth": 1.5}},
    "color": {"field": "g", "type": "nominal", "scale": {"domain": ["N","A","B","C","M"], "range": ["#676767","#1b66ad","#1a7a33","#f06a1c","#f27a2e"]}, "legend": null}
   }},
  {"data": {"name": "lab"}, "transform": [{"filter": "datum.p == 3"}], "mark": {"type": "text", "align": "left", "baseline": "middle", "fontSize": 22, "font": "Open Sans", "color": "#111111"},
   "encoding": {"x": {"field": "x", "type": "quantitative"}, "y": {"field": "y", "type": "quantitative"}, "text": {"field": "t"}}}
 ]
}
]
}
